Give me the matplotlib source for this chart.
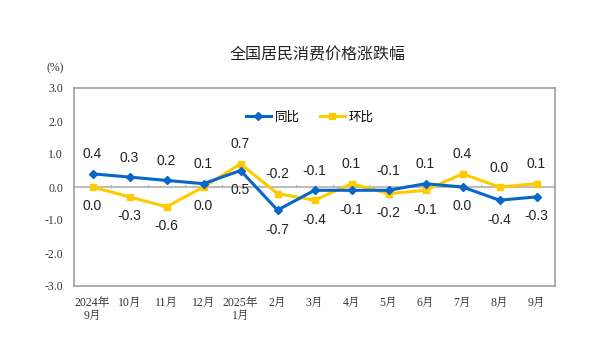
import numpy as np
import matplotlib.pyplot as plt

plt.rcParams['font.family'] = ['Liberation Sans', 'Noto Sans CJK SC']

months = ["2024年\n9月", "10月", "11月", "12月", "2025年\n1月", "2月", "3月",
          "4月", "5月", "6月", "7月", "8月", "9月"]
yoy = [0.4, 0.3, 0.2, 0.1, 0.5, -0.7, -0.1, -0.1, -0.1, 0.1, 0.0, -0.4, -0.3]
mom = [0.0, -0.3, -0.6, 0.0, 0.7, -0.2, -0.4, 0.1, -0.2, -0.1, 0.4, 0.0, 0.1]
# label above (1) or below (-1) the point
yoy_pos = [1, 1, 1, 1, -1, -1, 1, -1, 1, 1, -1, -1, -1]
mom_pos = [-1, -1, -1, -1, 1, 1, -1, 1, -1, -1, 1, 1, 1]

blue = '#0866c6'
yellow = '#fdcb00'

fig = plt.figure(figsize=(6, 3.53), dpi=100)
ax = fig.add_axes([74/600, 1-286/353, (555-74)/600, (286-88)/353])
x = np.arange(len(months))

ax.axhline(0, color='#b0b0b0', lw=1.2, zorder=1)
for b in np.arange(0.5, len(months) - 1, 1):
    ax.plot([b, b], [0, 0.06], color='#b0b0b0', lw=0.8, zorder=1)

ax.plot(x, yoy, color=blue, lw=2.2, marker='D', ms=4.5, label='同比', zorder=3)
ax.plot(x, mom, color=yellow, lw=2.2, marker='s', ms=5, label='环比', zorder=2)

for xi, v, p in zip(x, yoy, yoy_pos):
    ax.annotate(f"{v:.1f}", (xi, v), xytext=(0, 9 * p), textcoords='offset points',
                ha='center', va='bottom' if p > 0 else 'top', fontsize=10, color='#222222')
for xi, v, p in zip(x, mom, mom_pos):
    ax.annotate(f"{v:.1f}", (xi, v), xytext=(0, 9 * p), textcoords='offset points',
                ha='center', va='bottom' if p > 0 else 'top', fontsize=10, color='#222222')

ax.set_xlim(-0.5, len(months) - 0.5)
ax.set_ylim(-3, 3)
ax.set_yticks(np.arange(-3, 3.1, 1))
ax.set_yticklabels([f"{t:.1f}" for t in np.arange(-3, 3.1, 1)],
                   family=['Liberation Serif'], fontsize=8.5, color='#333333')
ax.set_xticks(x)
ax.set_xticklabels(months, family=['Liberation Serif', 'Noto Serif CJK SC', 'Noto Sans CJK SC'],
                   fontsize=8.5, color='#333333', linespacing=1.1)
ax.tick_params(axis='both', length=0, pad=8)
for s in ax.spines.values():
    s.set_color('#a0a0a0')
    s.set_linewidth(1.2)

ax.legend(loc='center', bbox_to_anchor=(0.49, 0.85), ncol=2, frameon=False,
          fontsize=9, handlelength=2.0, columnspacing=1.6, handletextpad=0.3)

fig.text(318/600, 1-55/353, "全国居民消费价格涨跌幅", ha='center', va='center',
         fontsize=11.5, color='#222222', family=['Noto Sans CJK SC'])
fig.text(55/600, 1-68/353, "(%)", ha='center', va='center', fontsize=8.5,
         color='#333333', family=['Liberation Serif'])

fig.savefig('out.png', dpi=100, facecolor='white')
